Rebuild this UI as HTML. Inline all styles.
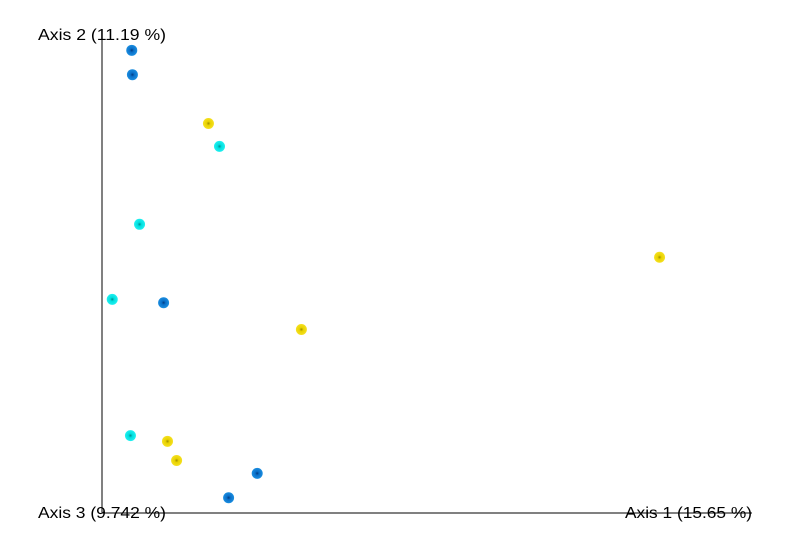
<!DOCTYPE html>
<html><head><meta charset="utf-8"><style>
html,body{margin:0;padding:0;background:#fff;}
svg{display:block;font-family:"Liberation Sans",sans-serif;}
</style></head><body>
<svg id="chart" width="791" height="547">
<defs>
<radialGradient id="gb"><stop offset="0" stop-color="#003a80"/><stop offset="0.35" stop-color="#0a6fc8"/><stop offset="1" stop-color="#1b8ee0"/></radialGradient>
<radialGradient id="gy"><stop offset="0" stop-color="#9a8a00"/><stop offset="0.35" stop-color="#e8d200"/><stop offset="1" stop-color="#f5e020"/></radialGradient>
<radialGradient id="gc"><stop offset="0" stop-color="#008a8a"/><stop offset="0.35" stop-color="#00dede"/><stop offset="1" stop-color="#20f0f0"/></radialGradient>
</defs>
<line x1="102" y1="35" x2="102" y2="513" stroke="#000" stroke-width="1"/>
<line x1="102" y1="513" x2="752" y2="513" stroke="#000" stroke-width="1"/>
<text x="38" y="40" font-size="16" textLength="128" lengthAdjust="spacingAndGlyphs">Axis 2 (11.19 %)</text>
<text x="38" y="518" font-size="16" textLength="128" lengthAdjust="spacingAndGlyphs">Axis 3 (9.742 %)</text>
<text x="625" y="518" font-size="16" textLength="127" lengthAdjust="spacingAndGlyphs">Axis 1 (15.65 %)</text>
<g id="pts"></g>
</svg>
<script>
const groups = ["blue","yellow","cyan"];
const blueX = [0.045,0.046,0.094,0.238,0.194];
const blueY = [0.969,0.918,0.441,0.084,0.033];
const yellowX = [0.163,0.857,0.306,0.100,0.114];
const yellowY = [0.816,0.536,0.385,0.151,0.111];
const cyanX = [0.180,0.057,0.015,0.043];
const cyanY = [0.768,0.605,0.448,0.163];
function sx(v){return 102.5+v*650;}
function sy(v){return 513.5-v*478;}
const g=document.getElementById('pts');
const series=[[blueX,blueY,'url(#gb)','blue'],[yellowX,yellowY,'url(#gy)','yellow'],[cyanX,cyanY,'url(#gc)','cyan']];
series.forEach(s=>{
  s[0].forEach((x,i)=>{
    const c=document.createElementNS('http://www.w3.org/2000/svg','circle');
    c.setAttribute('cx',sx(x));c.setAttribute('cy',sy(s[1][i]));
    c.setAttribute('r',5.5);c.setAttribute('fill',s[2]);
    
    
    g.appendChild(c);
  });
});
</script>
</body></html>
